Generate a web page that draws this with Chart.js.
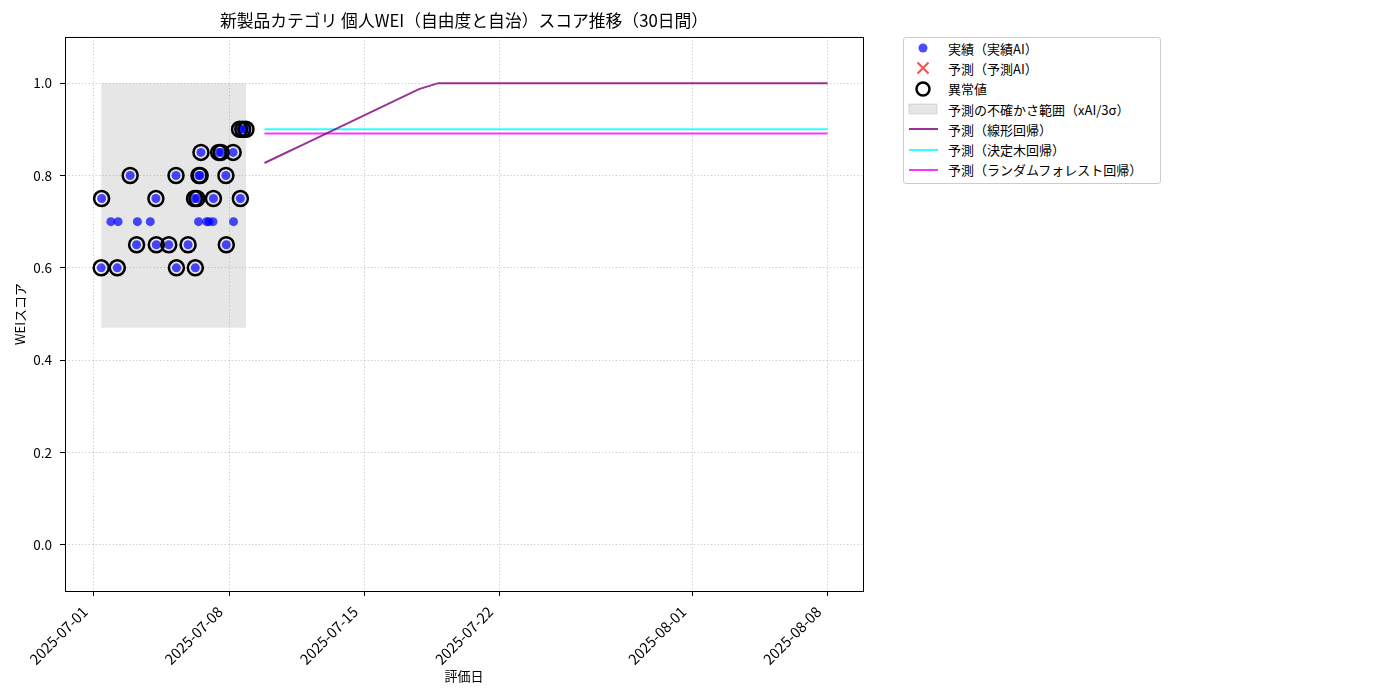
<!DOCTYPE html>
<html lang="ja">
<head>
<meta charset="utf-8">
<title>WEIスコア推移</title>
<script src="https://cdn.jsdelivr.net/npm/chart.js@4.4.1/dist/chart.umd.min.js"></script>
<style>
    body { margin: 0; background: #fff; font-family: "Noto Sans CJK JP", "DejaVu Sans", sans-serif; }
    .wrap { position: relative; width: 1400px; height: 700px; }
    #chart { display: block; }
    #legend {
        position: absolute; left: 903px; top: 37px; width: 256px;
        border: 1px solid #cccccc; border-radius: 3px; background: #fff;
        font-size: 13px; color: #000; padding: 0 0 3px 0;
    }
    #legend .row { display: flex; align-items: center; height: 20.3px; }
    #legend .mk { width: 44px; height: 20px; flex: none; }
</style>
</head>
<body>
<div class="wrap">
    <canvas id="chart" width="1400" height="700"></canvas>
    <div id="legend"></div>
</div>
<script>
// 実績データ（評価日時とスコア）
const actualDates = [
    '2025-07-01T09:00', '2025-07-01T09:30', '2025-07-01T21:00', '2025-07-02T05:00', '2025-07-02T06:00',
    '2025-07-02T21:00', '2025-07-03T05:00', '2025-07-03T06:00', '2025-07-03T22:00', '2025-07-04T05:00',
    '2025-07-04T05:30', '2025-07-04T21:00', '2025-07-05T06:00', '2025-07-05T06:30', '2025-07-05T21:00',
    '2025-07-06T05:00', '2025-07-06T06:00', '2025-07-06T08:00', '2025-07-06T10:00', '2025-07-06T10:30',
    '2025-07-06T12:00', '2025-07-06T13:00', '2025-07-06T20:00', '2025-07-06T23:00', '2025-07-07T04:00',
    '2025-07-07T04:30', '2025-07-07T11:00', '2025-07-07T14:00', '2025-07-07T20:00', '2025-07-07T20:30',
    '2025-07-08T05:00', '2025-07-08T05:30', '2025-07-08T13:00', '2025-07-08T14:00', '2025-07-08T17:00',
    '2025-07-08T21:00'
];
const actualValues = [
    0.60, 0.75, 0.70, 0.60, 0.70,
    0.80, 0.65, 0.70, 0.70, 0.75,
    0.65, 0.65, 0.80, 0.60, 0.65,
    0.75, 0.60, 0.75, 0.70, 0.80,
    0.80, 0.85, 0.70, 0.70, 0.70,
    0.75, 0.85, 0.85, 0.80, 0.65,
    0.85, 0.70, 0.90, 0.75, 0.90,
    0.90
];
// 異常値フラグ
const isOutlier = [
    1, 1, 0, 1, 0,
    1, 1, 0, 0, 1,
    1, 1, 1, 1, 1,
    1, 1, 1, 0, 1,
    1, 1, 0, 0, 0,
    1, 1, 1, 1, 1,
    1, 0, 1, 1, 1,
    1
];

// 予測の不確かさ範囲
const bandDates = ['2025-07-01T09:00', '2025-07-08T21:00'];
const bandUpper = [1.0, 1.0];
const bandLower = [0.47, 0.47];

// 予測（30日間）
const forecastDates = [
    '2025-07-09T20:00', '2025-07-10T20:00', '2025-07-11T20:00', '2025-07-12T20:00', '2025-07-13T20:00',
    '2025-07-14T20:00', '2025-07-15T20:00', '2025-07-16T20:00', '2025-07-17T20:00', '2025-07-18T20:00',
    '2025-07-19T20:00', '2025-07-20T20:00', '2025-07-21T20:00', '2025-07-22T20:00', '2025-07-23T20:00',
    '2025-07-24T20:00', '2025-07-25T20:00', '2025-07-26T20:00', '2025-07-27T20:00', '2025-07-28T20:00',
    '2025-07-29T20:00', '2025-07-30T20:00', '2025-07-31T20:00', '2025-08-01T20:00', '2025-08-02T20:00',
    '2025-08-03T20:00', '2025-08-04T20:00', '2025-08-05T20:00', '2025-08-06T20:00', '2025-08-08T00:00'
];
const linearPred = [
    0.827, 0.847, 0.867, 0.887, 0.907, 0.927, 0.947, 0.967, 0.987, 1.0,
    1.0, 1.0, 1.0, 1.0, 1.0, 1.0, 1.0, 1.0, 1.0, 1.0,
    1.0, 1.0, 1.0, 1.0, 1.0, 1.0, 1.0, 1.0, 1.0, 1.0
];
const treePred = [
    0.90, 0.90, 0.90, 0.90, 0.90, 0.90, 0.90, 0.90, 0.90, 0.90,
    0.90, 0.90, 0.90, 0.90, 0.90, 0.90, 0.90, 0.90, 0.90, 0.90,
    0.90, 0.90, 0.90, 0.90, 0.90, 0.90, 0.90, 0.90, 0.90, 0.90
];
const forestPred = [
    0.891, 0.891, 0.891, 0.891, 0.891, 0.891, 0.891, 0.891, 0.891, 0.891,
    0.891, 0.891, 0.891, 0.891, 0.891, 0.891, 0.891, 0.891, 0.891, 0.891,
    0.891, 0.891, 0.891, 0.891, 0.891, 0.891, 0.891, 0.891, 0.891, 0.891
];

const xTickDates = ['2025-07-01', '2025-07-08', '2025-07-15', '2025-07-22', '2025-08-01', '2025-08-08'];
const yTicks = [0.0, 0.2, 0.4, 0.6, 0.8, 1.0];
const xRange = ['2025-06-29T12:00', '2025-08-09T20:00'];
const yRange = [-0.1, 1.1];

const FONT = '"Noto Sans CJK JP", "DejaVu Sans", sans-serif';
const toMs = (s) => Date.parse((s.length === 10 ? s + 'T00:00' : s) + ':00Z');
const pts = (dates, vals) => dates.map((d, i) => ({ x: toMs(d), y: vals[i] }));
const fmtDate = (ms) => new Date(ms).toISOString().slice(0, 10);

const actualPts = pts(actualDates, actualValues);
const outlierPts = actualPts.filter((p, i) => isOutlier[i]);

const gridOpts = {
    color: 'rgba(170,170,170,0.8)',
    lineWidth: 0.8,
    tickColor: '#000',
    tickLength: 5,
    tickWidth: 1,
    tickBorderDash: []
};
// v4 では格子線の破線は border.dash で指定する
const borderOpts = { display: false, dash: [1.2, 2.2] };

// 枠線（四辺）
const frame = {
    id: 'frame',
    afterDraw(chart) {
        const { ctx, chartArea: a } = chart;
        ctx.save();
        ctx.strokeStyle = '#000';
        ctx.lineWidth = 1;
        ctx.strokeRect(a.left + 0.5, a.top + 0.5, a.right - a.left, a.bottom - a.top);
        ctx.restore();
    }
};

const ctx = document.getElementById('chart').getContext('2d');
new Chart(ctx, {
    type: 'scatter',
    data: {
        datasets: [
            {
                label: '予測の不確かさ範囲（xAI/3σ）',
                data: pts(bandDates, bandUpper),
                showLine: true, fill: '+1',
                backgroundColor: 'rgba(128,128,128,0.2)',
                borderWidth: 0, pointRadius: 0, order: 10
            },
            {
                label: 'band-lower',
                data: pts(bandDates, bandLower),
                showLine: true, fill: false,
                borderWidth: 0, pointRadius: 0, order: 10
            },
            {
                label: '予測（線形回帰）',
                data: pts(forecastDates, linearPred),
                showLine: true, borderColor: 'rgba(128,0,128,0.8)', borderWidth: 2,
                pointRadius: 0, order: 5
            },
            {
                label: '予測（決定木回帰）',
                data: pts(forecastDates, treePred),
                showLine: true, borderColor: 'rgba(0,255,255,0.8)', borderWidth: 2,
                pointRadius: 0, order: 5
            },
            {
                label: '予測（ランダムフォレスト回帰）',
                data: pts(forecastDates, forestPred),
                showLine: true, borderColor: 'rgba(255,0,255,0.8)', borderWidth: 2,
                pointRadius: 0, order: 5
            },
            {
                label: '予測（予測AI）',
                data: [],
                pointStyle: 'crossRot', borderColor: 'rgba(255,0,0,0.7)', order: 3
            },
            {
                label: '実績（実績AI）',
                data: actualPts,
                backgroundColor: 'rgba(0,0,255,0.7)', borderWidth: 0,
                pointRadius: 4.5, pointHoverRadius: 4.5, order: 2
            },
            {
                label: '異常値',
                data: outlierPts,
                backgroundColor: 'rgba(0,0,0,0)', borderColor: '#000', borderWidth: 2.5,
                pointRadius: 7.5, pointHoverRadius: 7.5, order: 1
            }
        ]
    },
    options: {
        responsive: false,
        animation: false,
        events: [],
        layout: { padding: { left: 0, right: 537, top: 0, bottom: 0 } },
        plugins: {
            legend: { display: false },
            tooltip: { enabled: false },
            title: {
                display: true,
                fullSize: false,
                text: '新製品カテゴリ 個人WEI（自由度と自治）スコア推移（30日間）',
                color: '#000',
                font: { family: FONT, size: 16.8, weight: 'normal', lineHeight: 1.2 },
                padding: { top: 11, bottom: 5.8 }
            }
        },
        scales: {
            x: {
                type: 'linear',
                min: toMs(xRange[0]),
                max: toMs(xRange[1]),
                afterBuildTicks: (scale) => { scale.ticks = xTickDates.map((d) => ({ value: toMs(d) })); },
                afterFit: (scale) => { scale.height = 109; },
                ticks: {
                    autoSkip: false, maxRotation: 45, minRotation: 45, padding: 7, labelOffset: -9,
                    color: '#000', font: { family: FONT, size: 14.5 },
                    callback: (v) => fmtDate(v)
                },
                grid: gridOpts,
                border: borderOpts,
                title: {
                    display: true, text: '評価日', color: '#000',
                    font: { family: FONT, size: 13 }, padding: { top: 0, bottom: 16 }
                }
            },
            y: {
                min: yRange[0],
                max: yRange[1],
                afterBuildTicks: (scale) => { scale.ticks = yTicks.map((v) => ({ value: v })); },
                afterFit: (scale) => { scale.width = 65; },
                ticks: {
                    padding: 8, color: '#000', font: { family: FONT, size: 13.5 },
                    callback: (v) => v.toFixed(1)
                },
                grid: gridOpts,
                border: borderOpts,
                title: {
                    display: true, text: 'WEIスコア', color: '#000',
                    font: { family: FONT, size: 13 }, padding: { top: 12, bottom: 0 }
                }
            }
        }
    },
    plugins: [frame]
});

// 凡例（グラフ外・右上）
const legendItems = [
    ['<circle cx="19" cy="10" r="4.5" fill="rgba(0,0,255,0.7)"/>', '実績（実績AI）'],
    ['<path d="M13.5 4.5 L24.5 15.5 M24.5 4.5 L13.5 15.5" stroke="rgba(255,0,0,0.7)" stroke-width="2"/>', '予測（予測AI）'],
    ['<circle cx="19" cy="10" r="6.5" fill="none" stroke="#000" stroke-width="2.5"/>', '異常値'],
    ['<rect x="5" y="5" width="28" height="10" fill="rgba(128,128,128,0.2)" stroke="rgba(128,128,128,0.25)"/>', '予測の不確かさ範囲（xAI/3σ）'],
    ['<line x1="5" y1="10" x2="34" y2="10" stroke="rgba(128,0,128,0.8)" stroke-width="2"/>', '予測（線形回帰）'],
    ['<line x1="5" y1="10" x2="34" y2="10" stroke="rgba(0,255,255,0.8)" stroke-width="2"/>', '予測（決定木回帰）'],
    ['<line x1="5" y1="10" x2="34" y2="10" stroke="rgba(255,0,255,0.8)" stroke-width="2"/>', '予測（ランダムフォレスト回帰）']
];
document.getElementById('legend').innerHTML = legendItems.map(([svg, text]) =>
    `<div class="row"><svg class="mk" viewBox="0 0 44 20">${svg}</svg><span>${text}</span></div>`
).join('');
</script>
</body>
</html>
